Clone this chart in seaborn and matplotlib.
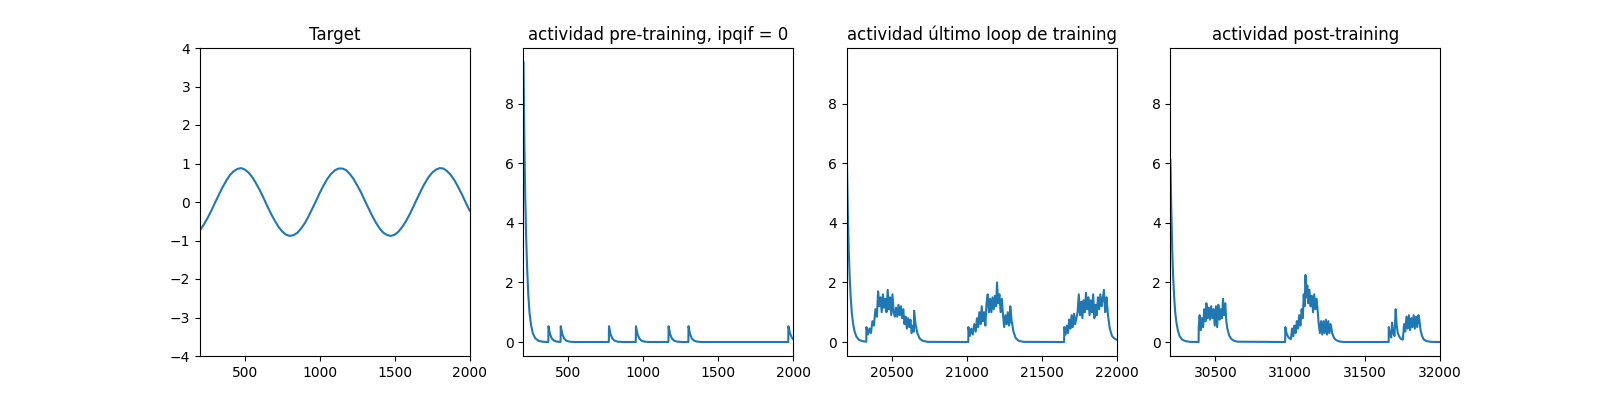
import matplotlib
matplotlib.use("Agg")
import matplotlib.pyplot as plt
import seaborn as sns

# --- data ---
TITLES = ["Target",
          "actividad pre-training, ipqif = 0",
          "actividad último loop de training",
          "actividad post-training"]

target_x = list(range(200, 2001, 25))
target_y = [-0.73, -0.59, -0.42, -0.23, -0.02, 0.18, 0.38, 0.55, 0.70, 0.80,
            0.86, 0.88, 0.84, 0.76, 0.64, 0.48, 0.30, 0.10, -0.11, -0.31,
            -0.49, -0.65, -0.77, -0.85, -0.88, -0.86, -0.80, -0.69, -0.55, -0.37,
            -0.17, 0.03, 0.24, 0.43, 0.60, 0.73, 0.82, 0.87, 0.87, 0.83,
            0.73, 0.60, 0.43, 0.25, 0.04, -0.16, -0.36, -0.54, -0.69, -0.80,
            -0.86, -0.88, -0.85, -0.77, -0.65, -0.50, -0.32, -0.12, 0.09, 0.29,
            0.48, 0.64, 0.76, 0.84, 0.88, 0.87, 0.80, 0.70, 0.56, 0.38,
            0.19, -0.02, -0.22]

pre_pts = [
    (200, 9.4), (206, 6.7), (212, 4.8), (218, 3.5), (225, 2.4), (232, 1.6),
    (240, 1.0), (250, 0.58), (262, 0.30), (278, 0.13), (300, 0.04), (335, 0.005), (366, 0.0),
    (367, 0.53), (377, 0.27), (389, 0.12), (404, 0.045), (424, 0.012), (448, 0.003),
    (449, 0.53), (459, 0.27), (471, 0.12), (486, 0.045), (506, 0.012), (540, 0.0), (770, 0.0),
    (771, 0.53), (781, 0.27), (793, 0.12), (808, 0.045), (828, 0.012), (860, 0.0), (950, 0.0),
    (951, 0.53), (961, 0.27), (973, 0.12), (988, 0.045), (1008, 0.012), (1040, 0.0), (1168, 0.0),
    (1169, 0.53), (1179, 0.27), (1191, 0.12), (1206, 0.045), (1226, 0.012), (1258, 0.0), (1301, 0.0),
    (1302, 0.53), (1312, 0.27), (1324, 0.12), (1339, 0.045), (1359, 0.012), (1391, 0.0), (1968, 0.0),
    (1969, 0.53), (1979, 0.30), (1991, 0.16), (2000, 0.10),
]

last_pts = [
    (20200, 6.0), (20206, 4.3), (20212, 3.1), (20218, 2.2), (20225, 1.5), (20232, 1.0),
    (20240, 0.65), (20250, 0.37), (20262, 0.19), (20278, 0.08), (20300, 0.03), (20329, 0.01),
    (20330, 0.5), (20340, 0.25), (20350, 0.45), (20360, 0.3), (20370, 0.7), (20380, 0.55),
    (20390, 1.1), (20400, 0.85), (20408, 1.7), (20416, 1.2), (20424, 1.5), (20432, 1.0),
    (20440, 1.6), (20448, 1.15), (20456, 1.45), (20464, 1.0), (20472, 1.75), (20480, 1.1),
    (20488, 1.5), (20496, 0.9), (20504, 1.6), (20512, 1.0), (20520, 0.85), (20528, 1.15),
    (20536, 0.85), (20544, 1.25), (20552, 0.9), (20560, 1.2), (20568, 0.8), (20576, 1.1),
    (20584, 0.6), (20592, 0.85), (20600, 0.45), (20608, 0.8), (20616, 0.5), (20624, 0.75),
    (20632, 0.3), (20640, 0.55), (20647, 0.35), (20648, 1.05), (20658, 0.6), (20670, 0.3),
    (20685, 0.12), (20705, 0.04), (20740, 0.005), (21010, 0.0),
    (21011, 0.5), (21020, 0.2), (21030, 0.45), (21040, 0.25), (21050, 0.6), (21060, 0.35),
    (21068, 0.8), (21076, 0.5), (21084, 1.0), (21092, 0.6), (21100, 1.2), (21108, 0.7),
    (21116, 1.0), (21124, 0.55), (21132, 1.3), (21140, 1.6), (21148, 1.0), (21156, 1.45),
    (21164, 1.0), (21172, 1.5), (21180, 1.1), (21188, 1.55), (21196, 1.2), (21202, 2.0),
    (21210, 1.3), (21218, 1.6), (21226, 1.0), (21234, 1.45), (21242, 0.9), (21250, 0.5),
    (21258, 0.9), (21266, 0.6), (21274, 1.0), (21282, 0.55), (21289, 0.7), (21290, 1.2),
    (21300, 0.7), (21312, 0.35), (21327, 0.13), (21347, 0.04), (21380, 0.005), (21650, 0.0),
    (21651, 0.5), (21660, 0.25), (21668, 0.55), (21676, 0.3), (21684, 0.75), (21692, 0.45),
    (21700, 0.9), (21708, 0.5), (21716, 0.95), (21724, 0.6), (21732, 0.8), (21740, 1.0),
    (21748, 1.6), (21756, 0.9), (21764, 1.35), (21772, 0.8), (21780, 1.4), (21788, 1.0),
    (21796, 1.65), (21804, 1.1), (21812, 1.5), (21820, 0.9), (21828, 1.4), (21836, 1.0),
    (21844, 1.6), (21852, 0.8), (21860, 1.25), (21868, 0.9), (21876, 1.5), (21884, 1.1),
    (21892, 1.6), (21900, 1.2), (21908, 1.45), (21916, 1.75), (21924, 1.0), (21932, 1.3),
    (21933, 1.5), (21943, 0.9), (21955, 0.45), (21970, 0.2), (21985, 0.12), (22000, 0.08),
]

post_pts = [
    (30200, 6.1), (30206, 4.4), (30212, 3.1), (30218, 2.2), (30225, 1.5), (30232, 1.0),
    (30240, 0.65), (30250, 0.38), (30262, 0.19), (30278, 0.08), (30300, 0.03), (30330, 0.005),
    (30388, 0.0),
    (30389, 0.5), (30395, 0.9), (30402, 0.4), (30410, 0.8), (30418, 0.5), (30426, 1.1),
    (30434, 0.7), (30440, 1.3), (30448, 0.8), (30456, 1.15), (30464, 0.75), (30472, 1.2),
    (30480, 0.8), (30488, 1.1), (30496, 0.55), (30504, 1.2), (30512, 0.5), (30520, 1.25),
    (30528, 0.75), (30536, 1.1), (30544, 0.8), (30551, 1.45), (30558, 0.9), (30566, 1.3),
    (30573, 0.7), (30580, 0.45), (30592, 0.22), (30607, 0.1), (30625, 0.04), (30650, 0.01),
    (30966, 0.0),
    (30967, 0.5), (30975, 0.3), (30985, 0.18), (30995, 0.12), (31005, 0.1), (31012, 0.45),
    (31020, 0.2), (31028, 0.55), (31036, 0.3), (31044, 0.7), (31052, 0.45), (31060, 0.9),
    (31068, 0.55), (31076, 1.1), (31084, 0.8), (31090, 1.6), (31096, 1.2), (31102, 2.25),
    (31108, 1.5), (31114, 1.9), (31120, 1.3), (31128, 1.75), (31136, 1.2), (31144, 1.55),
    (31152, 1.0), (31160, 1.6), (31168, 1.1), (31176, 1.45), (31184, 1.0), (31190, 0.6),
    (31198, 0.3), (31206, 0.7), (31214, 0.25), (31222, 0.7), (31230, 0.3), (31238, 0.75),
    (31246, 0.25), (31254, 0.7), (31262, 0.3), (31270, 0.6), (31280, 0.3), (31292, 0.14),
    (31307, 0.06), (31330, 0.015), (31360, 0.0), (31657, 0.0),
    (31658, 0.5), (31666, 0.25), (31674, 0.15), (31680, 0.65), (31688, 0.3), (31696, 0.2),
    (31704, 1.1), (31710, 0.6), (31718, 0.3), (31728, 0.18), (31740, 0.1), (31752, 0.08),
    (31760, 0.6), (31768, 0.35), (31776, 0.85), (31784, 0.45), (31792, 0.9), (31800, 0.4),
    (31808, 0.8), (31816, 0.5), (31824, 0.9), (31832, 0.45), (31840, 0.85), (31848, 0.5),
    (31856, 0.9), (31862, 0.75), (31870, 0.4), (31880, 0.2), (31893, 0.08), (31910, 0.03),
    (31940, 0.005), (32000, 0.0),
]

XLIMS = [(200, 2000), (200, 2000), (20200, 22000), (30200, 32000)]


def draw(ax, xs, ys):
    sns.lineplot(x=list(xs), y=list(ys), ax=ax, estimator=None, sort=False,
                 color="C0", linewidth=1.5)


fig, axes = plt.subplots(1, 4, figsize=(16, 4))

draw(axes[0], target_x, target_y)
for ax, pts in zip(axes[1:], [pre_pts, last_pts, post_pts]):
    xs, ys = zip(*pts)
    draw(ax, xs, ys)

axes[0].set_ylim(-4, 4)
ylim_act = axes[1].get_ylim()
for ax in axes[2:]:
    ax.set_ylim(ylim_act)

for ax, title, xl in zip(axes, TITLES, XLIMS):
    ax.set_xlim(xl)
    ax.set_title(title)

plt.savefig("out.png", dpi=100)
plt.close()
